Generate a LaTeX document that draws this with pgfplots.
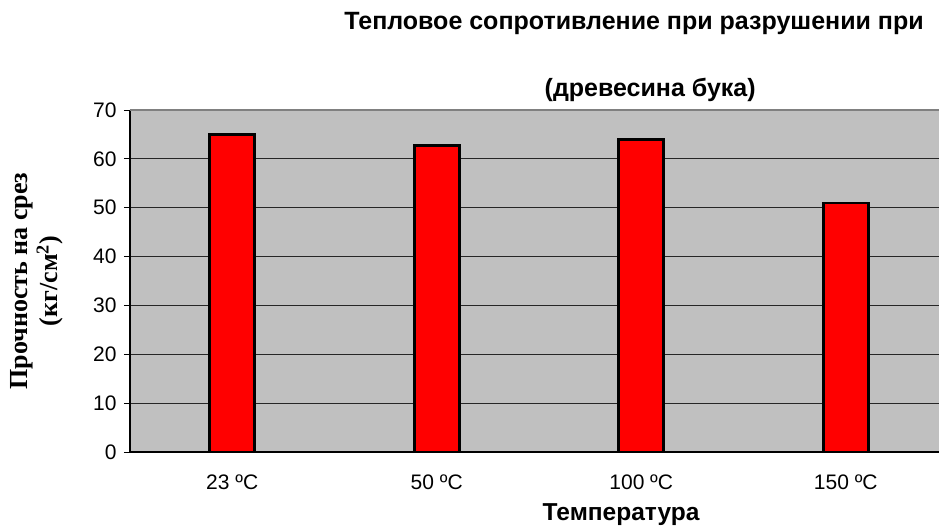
\documentclass[border=0pt]{standalone}
\usepackage{fontspec}
\setmainfont{Liberation Sans}
\newfontfamily\serifbold{Liberation Serif}[BoldFont={* Bold}]
\usepackage{pgfplots}
\pgfplotsset{compat=1.18}

\definecolor{plotgray}{HTML}{C0C0C0}
\definecolor{framegray}{HTML}{808080}

\begin{document}
\begin{tikzpicture}
  \useasboundingbox (0,0) rectangle (939pt,527pt);
  \begin{axis}[
    at={(130pt,75pt)}, anchor=south west,
    scale only axis,
    width=809pt, height=342pt,
    xmin=-0.5, xmax=3.456,
    ymin=0, ymax=70,
    ytick={0,10,...,70},
    xtick={0,1,2,3},
    xticklabels={23 ºC, 50 ºC, 100 ºC, 150 ºC},
    major x tick style={draw=none},
    extra x ticks={-0.5,0.5,1.5,2.5},
    extra x tick labels={},
    extra x tick style={tick style={black, line width=0.9pt}, major tick length=6pt},
    tick align=outside,
    ytick style={black, line width=0.9pt},
    major tick length=6pt,
    axis x line*=bottom,
    axis y line*=left,
    axis line style={black, line width=1.2pt, -},
    axis background/.style={fill=plotgray},
    ymajorgrids,
    major grid style={black!85, line width=1.2pt},
    /pgf/number format/assume math mode=true,
    ticklabel style={font=\fontsize{21}{24}\selectfont},
    xticklabel style={yshift=-13pt},
    yticklabel style={xshift=-4pt},
    xlabel={Температура},
    xlabel style={font=\fontsize{24.5}{28}\selectfont\bfseries,
      at={(axis description cs:0.607,-0.184)}, anchor=center},
    ylabel={Прочность на срез\\(кг/см\textsuperscript{2})},
    ylabel style={font=\serifbold\bfseries\fontsize{26}{30}\selectfont, align=center,
      at={(axis description cs:-0.115,0.5)}, anchor=center},
    title={Тепловое сопротивление при разрушении при},
    title style={font=\fontsize{25}{28}\selectfont\bfseries,
      at={(axis description cs:0.623,1.235)}, anchor=center},
    clip=false,
  ]
    \addplot[ybar, bar width=45pt, fill=red, draw=black, line width=2.6pt]
      coordinates {(0,65) (1,62.7) (2,64) (3,51)};
    \draw[framegray, line width=2.5pt]
      (rel axis cs:0,1) -- (rel axis cs:1,1);
    \node[font=\fontsize{25}{28}\selectfont\bfseries, anchor=center]
      at (axis description cs:0.643,1.060) {(древесина бука)};
  \end{axis}
\end{tikzpicture}
\end{document}
